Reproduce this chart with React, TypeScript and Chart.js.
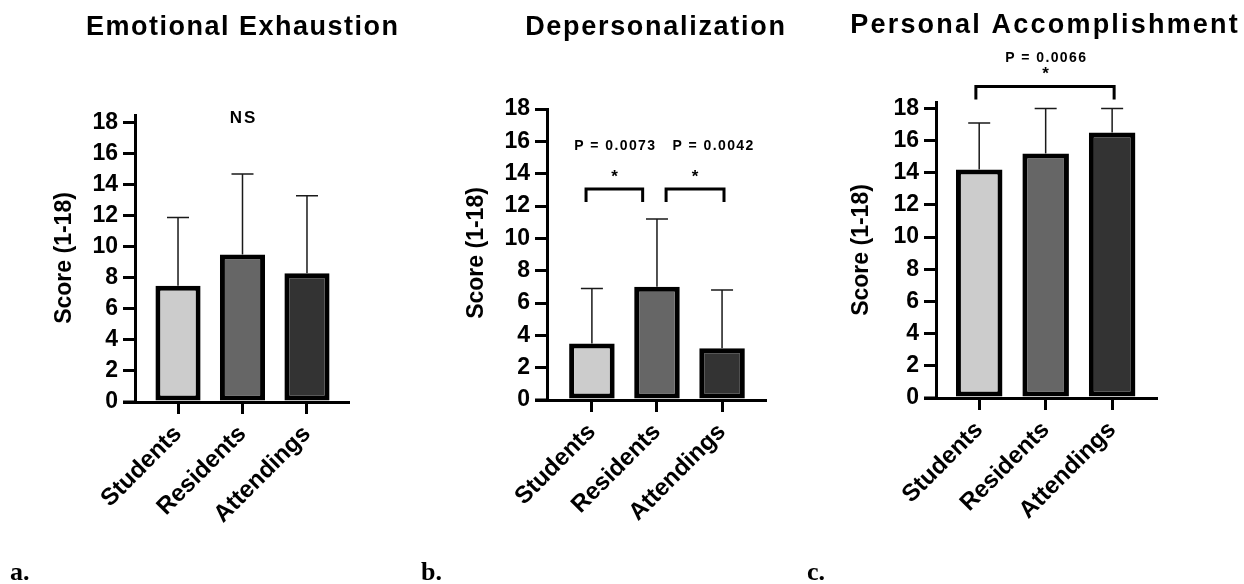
import React, { useEffect, useRef } from "react";
import { Chart, registerables } from "chart.js";

Chart.register(...registerables);

// ---------- data ----------
const categories = ["Students", "Residents", "Attendings"];
const yTickValues = [0, 2, 4, 6, 8, 10, 12, 14, 16, 18];
const barColors = ["#cccccc", "#666666", "#333333"];

const titles = ["Emotional Exhaustion", "Depersonalization", "Personal Accomplishment"];
const panelLetters = ["a.", "b.", "c."];
const yAxisTitle = "Score (1-18)";

const eeMeans = [7.5, 9.5, 8.3];
const eeSD = [4.4, 5.2, 5.0];
const dpMeans = [3.5, 7.0, 3.2];
const dpSD = [3.4, 4.2, 3.6];
const paMeans = [14.2, 15.2, 16.5];
const paSD = [2.9, 2.8, 1.5];

const eeNotes = [{ text: "NS", x: 1, y: 18.26, size: 17, spacing: 2 }];
const dpNotes = [
  { text: "P = 0.0073", x: 0.35, y: 15.7, size: 14, spacing: 1.4 },
  { text: "P = 0.0042", x: 1.86, y: 15.7, size: 14, spacing: 1.4 },
  { text: "*", x: 0.35, y: 13.75, size: 17, spacing: 0 },
  { text: "*", x: 1.585, y: 13.75, size: 17, spacing: 0 },
];
const dpBrackets = [
  { from: -0.09, to: 0.78, y: 13.05, leg: 12.25 },
  { from: 1.14, to: 2.03, y: 13.05, leg: 12.25 },
];
const paNotes = [
  { text: "P = 0.0066", x: 1.0, y: 21.1, size: 14, spacing: 1.4 },
  { text: "*", x: 1.0, y: 20.1, size: 17, spacing: 0 },
];
const paBrackets = [{ from: -0.05, to: 2.03, y: 19.37, leg: 18.56 }];

// ---------- layout ----------
const SANS = "'Liberation Sans', Arial, Helvetica, sans-serif";
const SERIF = "'Liberation Serif', 'Times New Roman', serif";

const panels = [
  {
    left: 0, width: 415,
    area: { left: 135, right: 348, top: 115, bottom: 402 },
    yMax: 18.5, xMin: -0.667, xMax: 2.636,
    title: titles[0], titleX: 242, titleY: 28, titleSpacing: 1.5,
    yTitleX: 65, yTitleY: 258,
    letter: panelLetters[0], letterX: 10,
    means: eeMeans, sd: eeSD, notes: eeNotes, brackets: [] as any[],
  },
  {
    left: 415, width: 385,
    area: { left: 132, right: 350, top: 109, bottom: 400 },
    yMax: 18, xMin: -0.69, xMax: 2.66,
    title: titles[1], titleX: 240, titleY: 28, titleSpacing: 1.7,
    yTitleX: 62, yTitleY: 253,
    letter: panelLetters[1], letterX: 6,
    means: dpMeans, sd: dpSD, notes: dpNotes, brackets: dpBrackets,
  },
  {
    left: 800, width: 444,
    area: { left: 136, right: 356, top: 102, bottom: 398 },
    yMax: 18.4, xMin: -0.65, xMax: 2.66,
    title: titles[2], titleX: 244, titleY: 26, titleSpacing: 2.2,
    yTitleX: 62, yTitleY: 250,
    letter: panelLetters[2], letterX: 7,
    means: paMeans, sd: paSD, notes: paNotes, brackets: paBrackets,
  },
];

const H = 584;
const Y_AXIS_W = 60;
const X_AXIS_H = 150;

function drawText(ctx: any, text: string, x: number, y: number, font: string, spacing = 0, rotate = 0, align = "center") {
  ctx.save();
  ctx.font = font;
  ctx.fillStyle = "#000";
  ctx.textAlign = align;
  ctx.textBaseline = "middle";
  try { ctx.letterSpacing = spacing + "px"; } catch (e) {}
  ctx.translate(x, y);
  if (rotate) ctx.rotate(rotate);
  ctx.fillText(text, align === "center" ? spacing / 2 : 0, 0);
  ctx.restore();
}

function Panel({ cfg }: { cfg: any }) {
  const ref = useRef<HTMLCanvasElement>(null);
  useEffect(() => {
    const canvas = ref.current!;
    const a = cfg.area;
    const overlay = {
      id: "overlay" + cfg.letter,
      afterDatasetsDraw(chart: any) {
        const ctx = chart.ctx;
        const xs = chart.scales.x;
        const ys = chart.scales.y;
        ctx.save();
        ctx.strokeStyle = "#1a1a1a";
        ctx.lineWidth = 1.5;
        cfg.means.forEach((m: number, i: number) => {
          const x = xs.getPixelForValue(i);
          const y0 = ys.getPixelForValue(m);
          const y1 = ys.getPixelForValue(m + cfg.sd[i]);
          ctx.beginPath();
          ctx.moveTo(x, y0);
          ctx.lineTo(x, y1);
          ctx.moveTo(x - 11, y1);
          ctx.lineTo(x + 11, y1);
          ctx.stroke();
        });
        ctx.restore();
      },
      afterDraw(chart: any) {
        const ctx = chart.ctx;
        const xs = chart.scales.x;
        const ys = chart.scales.y;
        ctx.save();
        ctx.strokeStyle = "#000";
        ctx.lineWidth = 3;
        const y0 = ys.getPixelForValue(0);
        ctx.beginPath();
        ctx.moveTo(xs.left - 12, y0);
        ctx.lineTo(xs.left, y0);
        ctx.stroke();
        ctx.lineWidth = 3;
        cfg.brackets.forEach((b: any) => {
          const x1 = xs.getPixelForValue(b.from);
          const x2 = xs.getPixelForValue(b.to);
          const yt = ys.getPixelForValue(b.y);
          const yl = ys.getPixelForValue(b.leg);
          ctx.beginPath();
          ctx.moveTo(x1, yl);
          ctx.lineTo(x1, yt);
          ctx.lineTo(x2, yt);
          ctx.lineTo(x2, yl);
          ctx.stroke();
        });
        ctx.restore();
        cfg.notes.forEach((n: any) => {
          drawText(ctx, n.text, xs.getPixelForValue(n.x), ys.getPixelForValue(n.y), `bold ${n.size}px ${SANS}`, n.spacing);
        });
        drawText(ctx, cfg.title, cfg.titleX, cfg.titleY, `bold 27px ${SANS}`, cfg.titleSpacing);
        drawText(ctx, yAxisTitle, cfg.yTitleX, cfg.yTitleY, `bold 23px ${SANS}`, 0, -Math.PI / 2);
        ctx.save();
        ctx.font = `bold 26px ${SERIF}`;
        ctx.fillStyle = "#000";
        ctx.textAlign = "left";
        ctx.textBaseline = "alphabetic";
        ctx.fillText(cfg.letter, cfg.letterX, 580);
        ctx.restore();
      },
    };

    const chart = new Chart(canvas, {
      type: "bar",
      data: {
        datasets: [
          {
            data: categories.map((c, i) => ({ x: i, y: cfg.means[i] })),
            backgroundColor: barColors,
            borderColor: "#000",
            borderWidth: 5,
            borderSkipped: false,
            barPercentage: 0.7,
            categoryPercentage: 1,
          } as any,
        ],
      },
      options: {
        responsive: false,
        animation: false,
        events: [],
        layout: {
          padding: {
            left: a.left - Y_AXIS_W,
            right: cfg.width - a.right,
            top: a.top,
            bottom: H - a.bottom - X_AXIS_H,
          },
        },
        plugins: {
          legend: { display: false },
          title: { display: false },
          tooltip: { enabled: false },
        },
        scales: {
          x: {
            type: "linear",
            offset: false,
            min: cfg.xMin,
            max: cfg.xMax,
            afterBuildTicks: (s: any) => {
              s.ticks = categories.map((c, i) => ({ value: i }));
            },
            afterFit: (s: any) => {
              s.height = X_AXIS_H;
            },
            ticks: {
              autoSkip: false,
              minRotation: 45,
              maxRotation: 45,
              padding: 6,
              color: "#000",
              font: { family: SANS, weight: "bold", size: 24 },
              callback: (v: any) => categories[Math.round(v)] ?? "",
            },
            grid: {
              display: true,
              offset: false,
              drawOnChartArea: false,
              drawTicks: true,
              tickLength: 12,
              lineWidth: 3,
              color: "#000",
            },
            border: { display: true, width: 3, color: "#000" },
          },
          y: {
            type: "linear",
            min: 0,
            max: cfg.yMax,
            afterBuildTicks: (s: any) => {
              s.ticks = yTickValues.map((v) => ({ value: v }));
            },
            afterFit: (s: any) => {
              s.width = Y_AXIS_W;
            },
            ticks: {
              padding: 5,
              color: "#000",
              font: { family: SANS, weight: "bold", size: 23 },
            },
            grid: {
              display: true,
              drawOnChartArea: false,
              drawTicks: true,
              tickLength: 12,
              lineWidth: 3,
              color: "#000",
            },
            border: { display: true, width: 3, color: "#000" },
          },
        },
      } as any,
      plugins: [overlay],
    });
    return () => chart.destroy();
  }, []);
  return (
    <canvas
      ref={ref}
      width={cfg.width}
      height={H}
      style={{ position: "absolute", left: cfg.left, top: 0, width: cfg.width, height: H }}
    />
  );
}

export default function App() {
  return (
    <div style={{ position: "absolute", left: 0, top: 0, width: 1244, height: H, background: "#fff" }}>
      {panels.map((p, i) => (
        <Panel key={i} cfg={p} />
      ))}
    </div>
  );
}
